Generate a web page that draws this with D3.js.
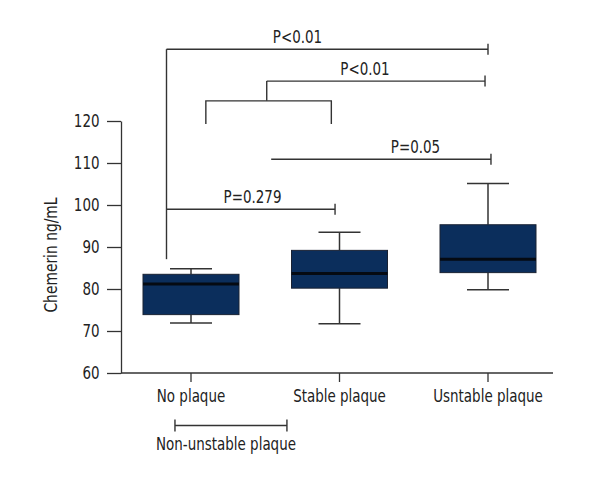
<!DOCTYPE html>
<html><head><meta charset="utf-8">
<script src="https://cdn.jsdelivr.net/npm/d3@7"></script>
<style>
body{margin:0;background:#fff;}
text{font-family:"DejaVu Sans Condensed","DejaVu Sans",sans-serif;fill:#222;}
</style></head>
<body><svg id="chart" width="600" height="480"></svg>
<script>
// ---- data ----
const categories = ["No plaque", "Stable plaque", "Usntable plaque"];
const whiskerLow  = [71.9, 71.7, 79.8];
const q1          = [73.9, 80.2, 83.9];
const medians     = [81.2, 83.7, 87.1];
const q3          = [83.5, 89.2, 95.3];
const whiskerHigh = [84.8, 93.5, 105.1];
const yTicks = [60, 70, 80, 90, 100, 110, 120];
const yLabel = "Chemerin ng/mL";
// comparisons: from / to (category index), level (ng/mL), label
const compLabels = ["P<0.01", "P<0.01", "P=0.05", "P=0.279"];
const compFrom   = [-0.165, 0.51, 0.54, -0.165];
const compTo     = [2.0, 1.98, 2.02, 0.97];
const compLevel  = [137.1, 129.5, 110.9, 99.0];
const groupLabel = "Non-unstable plaque";

// ---- layout ----
const svg = d3.select("#chart");
const y = d3.scaleLinear().domain([60, 120]).range([373, 121]);
const x = d3.scaleLinear().domain([0, 2]).range([191, 488]);
const lineColor = "#333";
const boxFill = "#0b2e5c";
const SX = 0.88; // condensed look

function addText(parent, px, py, str, size, anchor) {
  return parent.append("text")
    .attr("transform", `translate(${px},${py}) scale(${SX},1)`)
    .attr("text-anchor", anchor || "middle")
    .attr("font-size", size).text(str);
}

// Y axis
const yAxis = d3.axisLeft(y).tickValues(yTicks).tickSize(14).tickSizeOuter(0).tickPadding(6);
const gy = svg.append("g").attr("transform", "translate(121,0)").call(yAxis);
gy.selectAll("path,line").attr("stroke", lineColor).attr("stroke-width", 1.3);
gy.selectAll("text").attr("font-size", 17).attr("font-family", null).style("fill", "#222")
  .attr("x", -21.5 / SX).attr("transform", `scale(${SX},1)`);

// X axis line
svg.append("line").attr("x1", 121).attr("x2", 553).attr("y1", y(60)).attr("y2", y(60))
  .attr("stroke", lineColor).attr("stroke-width", 1.3);
const gx = svg.append("g");
categories.forEach((c, i) => {
  gx.append("line").attr("x1", x(i)).attr("x2", x(i)).attr("y1", y(60)).attr("y2", y(60) + 9)
    .attr("stroke", lineColor).attr("stroke-width", 1.3);
  addText(gx, x(i), 402, c, 17);
});

// Y label
svg.append("text").attr("transform", `translate(57,255) rotate(-90) scale(${SX},1)`)
  .attr("text-anchor", "middle").attr("font-size", 17.5).text(yLabel);

// Boxes
const boxW = 96, capW = 42;
categories.forEach((c, i) => {
  const g = svg.append("g");
  const cx = x(i);
  g.append("line").attr("x1", cx).attr("x2", cx).attr("y1", y(whiskerHigh[i])).attr("y2", y(q3[i]))
    .attr("stroke", lineColor).attr("stroke-width", 1.5);
  g.append("line").attr("x1", cx).attr("x2", cx).attr("y1", y(q1[i])).attr("y2", y(whiskerLow[i]))
    .attr("stroke", lineColor).attr("stroke-width", 1.5);
  g.append("line").attr("x1", cx - capW / 2).attr("x2", cx + capW / 2).attr("y1", y(whiskerHigh[i])).attr("y2", y(whiskerHigh[i]))
    .attr("stroke", lineColor).attr("stroke-width", 1.5);
  g.append("line").attr("x1", cx - capW / 2).attr("x2", cx + capW / 2).attr("y1", y(whiskerLow[i])).attr("y2", y(whiskerLow[i]))
    .attr("stroke", lineColor).attr("stroke-width", 1.5);
  g.append("rect").attr("x", cx - boxW / 2).attr("width", boxW)
    .attr("y", y(q3[i])).attr("height", y(q1[i]) - y(q3[i]))
    .attr("fill", boxFill).attr("stroke", "#1a2233").attr("stroke-width", 1);
  g.append("line").attr("x1", cx - boxW / 2).attr("x2", cx + boxW / 2).attr("y1", y(medians[i])).attr("y2", y(medians[i]))
    .attr("stroke", "#050a12").attr("stroke-width", 3);
});

// Significance brackets
const cap = 5.5;
const ann = svg.append("g").attr("stroke", lineColor).attr("stroke-width", 1.4).attr("fill", "none");
compLabels.forEach((lab, k) => {
  const x1 = x(compFrom[k]), x2 = x(compTo[k]), yy = y(compLevel[k]);
  ann.append("line").attr("x1", x1).attr("x2", x2).attr("y1", yy).attr("y2", yy);
  ann.append("line").attr("x1", x2).attr("x2", x2).attr("y1", yy - cap).attr("y2", yy + cap);
});
const labelCenters = [297.5, 365, 415.5, 252.5];
compLabels.forEach((lab, k) => {
  addText(svg, labelCenters[k], y(compLevel[k]) - 6.5, lab, 17);
});
// vertical from top bracket down to No plaque
ann.append("line").attr("x1", x(-0.165)).attr("x2", x(-0.165)).attr("y1", y(137.1)).attr("y2", y(87.1));
// grouped bracket (No plaque + Stable plaque)
const gL = x(0.10), gR = x(0.945), gTop = y(124.8), gBot = y(119.3);
ann.append("line").attr("x1", x(0.51)).attr("x2", x(0.51)).attr("y1", y(129.5)).attr("y2", gTop);
ann.append("path").attr("d", `M${gL},${gBot}V${gTop}H${gR}V${gBot}`);

// Non-unstable bracket below axis
const nb = 425.5;
ann.append("path").attr("d", `M${x(-0.108)},${nb}H${x(0.646)}M${x(-0.108)},${nb - 6}V${nb + 6}M${x(0.646)},${nb - 6}V${nb + 6}`);
addText(svg, 226, 450, groupLabel, 17);
</script></body></html>
